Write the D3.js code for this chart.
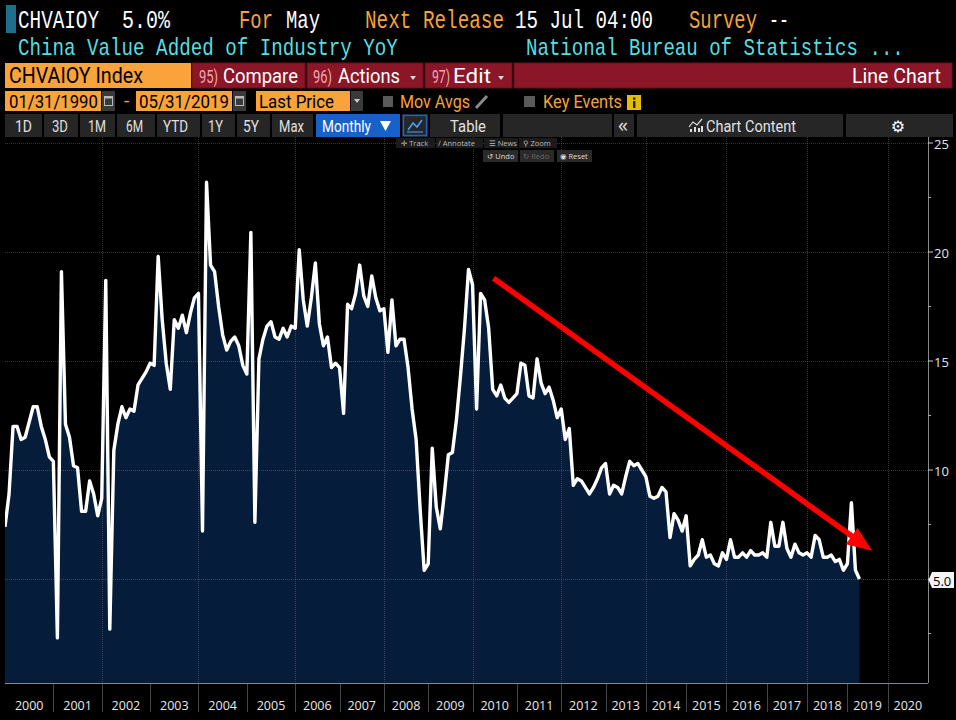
<!DOCTYPE html>
<html><head><meta charset="utf-8">
<script src="https://cdn.jsdelivr.net/npm/d3@7"></script>
<style>html,body{margin:0;padding:0;background:#000;}svg{display:block;}</style>
</head><body>
<svg id="c" width="956" height="720"></svg>
<script>
// ---------------- DATA ----------------
const periods = [
"1999-12",
"2000-01","2000-02","2000-03","2000-04","2000-05","2000-06","2000-07","2000-08","2000-09","2000-10","2000-11","2000-12",
"2001-01","2001-02","2001-03","2001-04","2001-05","2001-06","2001-07","2001-08","2001-09","2001-10","2001-11","2001-12",
"2002-01","2002-02","2002-03","2002-04","2002-05","2002-06","2002-07","2002-08","2002-09","2002-10","2002-11","2002-12",
"2003-01","2003-02","2003-03","2003-04","2003-05","2003-06","2003-07","2003-08","2003-09","2003-10","2003-11","2003-12",
"2004-01","2004-02","2004-03","2004-04","2004-05","2004-06","2004-07","2004-08","2004-09","2004-10","2004-11","2004-12",
"2005-01","2005-02","2005-03","2005-04","2005-05","2005-06","2005-07","2005-08","2005-09","2005-10","2005-11","2005-12",
"2006-02","2006-03","2006-04","2006-05","2006-06","2006-07","2006-08","2006-09","2006-10","2006-11","2006-12",
"2007-02","2007-03","2007-04","2007-05","2007-06","2007-07","2007-08","2007-09","2007-10","2007-11","2007-12",
"2008-02","2008-03","2008-04","2008-05","2008-06","2008-07","2008-08","2008-09","2008-10","2008-11","2008-12",
"2009-02","2009-03","2009-04","2009-05","2009-06","2009-07","2009-08","2009-09","2009-10","2009-11","2009-12",
"2010-02","2010-03","2010-04","2010-05","2010-06","2010-07","2010-08","2010-09","2010-10","2010-11","2010-12",
"2011-02","2011-03","2011-04","2011-05","2011-06","2011-07","2011-08","2011-09","2011-10","2011-11","2011-12",
"2012-02","2012-03","2012-04","2012-05","2012-06","2012-07","2012-08","2012-09","2012-10","2012-11","2012-12",
"2013-03","2013-04","2013-05","2013-06","2013-07","2013-08","2013-09","2013-10","2013-11","2013-12",
"2014-03","2014-04","2014-05","2014-06","2014-07","2014-08","2014-09","2014-10","2014-11","2014-12",
"2015-03","2015-04","2015-05","2015-06","2015-07","2015-08","2015-09","2015-10","2015-11","2015-12",
"2016-03","2016-04","2016-05","2016-06","2016-07","2016-08","2016-09","2016-10","2016-11","2016-12",
"2017-03","2017-04","2017-05","2017-06","2017-07","2017-08","2017-09","2017-10","2017-11","2017-12",
"2018-03","2018-04","2018-05","2018-06","2018-07","2018-08","2018-09","2018-10","2018-11","2018-12",
"2019-03","2019-04","2019-05"
];
const values = [
7.4,
8.9,12.0,12.0,11.4,11.5,12.2,12.9,12.9,12.0,11.4,10.6,10.4,
2.3,19.1,12.1,11.5,10.2,10.1,8.1,8.1,9.5,8.9,7.9,8.7,
18.7,2.7,10.9,12.1,12.9,12.4,12.8,12.7,13.9,14.2,14.5,14.9,
14.8,19.8,16.9,14.9,13.7,16.9,16.5,17.1,16.3,17.2,17.9,18.1,
7.2,23.2,19.4,19.1,17.5,16.2,15.5,15.9,16.1,15.7,14.8,14.4,
20.9,7.6,15.1,16.0,16.6,16.8,16.1,16.0,16.5,16.1,16.6,16.5,
20.1,17.8,16.6,17.9,19.5,16.7,15.7,16.1,14.7,14.9,14.7,
12.6,17.6,17.4,18.1,19.4,18.0,17.5,18.9,17.9,17.3,17.4,
15.4,17.8,15.7,16.0,16.0,14.7,12.8,11.4,8.2,5.4,5.7,
11.0,8.3,7.3,8.9,10.7,10.8,12.3,14.3,16.5,19.2,18.5,
12.8,18.1,17.8,16.5,13.7,13.4,13.9,13.3,13.1,13.3,13.5,
14.9,14.8,13.4,13.3,15.1,14.0,13.5,13.8,13.2,12.4,12.8,
11.4,11.9,9.3,9.6,9.5,9.2,8.9,9.2,9.6,10.1,10.3,
8.9,9.3,9.2,8.9,9.7,10.4,10.2,10.3,10.0,9.7,
8.8,8.7,8.8,9.2,9.0,6.9,8.0,7.7,7.2,7.9,
5.6,5.9,6.1,6.8,6.0,6.1,5.7,5.6,6.2,5.9,
6.8,6.0,6.0,6.2,6.0,6.3,6.1,6.1,6.2,6.0,
7.6,6.5,6.5,7.6,6.4,6.0,6.6,6.2,6.1,6.2,
6.0,7.0,6.8,6.0,6.0,6.1,5.8,5.9,5.4,5.7,
8.5,5.4,5.0
];
const yTicks = [5, 10, 15, 20, 25];
const yMinorTicks = [2.5, 7.5, 12.5, 17.5, 22.5];
const yearLabels = [2000,2001,2002,2003,2004,2005,2006,2007,2008,2009,2010,2011,2012,2013,2014,2015,2016,2017,2018,2019,2020];
const lastValueText = "5.0";
// trend arrow annotation, in data space (observation index, value)
const arrowStart = [121.2, 18.8];
const arrowEnd = [215.1, 6.3];

// ---------------- LAYOUT ----------------
const MONO = "'Liberation Mono','DejaVu Sans Mono',monospace";
const NARROW = "'Liberation Sans Narrow','Arial Narrow',Roboto,'Liberation Sans',sans-serif";
const UI = "'Open Sans','DejaVu Sans',sans-serif";
const ORANGE = "#f5a23a", CYAN = "#56dfe0", RED = "#8a1628", BOX = "#f9a33a";

const svg = d3.select("#c");
svg.append("rect").attr("width",956).attr("height",720).attr("fill","#000");

// text placed at (x, baseline yb); if len is given the glyphs are scaled horizontally to that width
function txt(g, s, x, yb, o) {
  o = o || {};
  const t = g.append("text").text(s)
    .attr("font-family", o.f || MONO).attr("font-size", o.s || 20).attr("fill", o.c || "#fff");
  if (o.a) t.attr("text-anchor", o.a);
  if (o.w) t.attr("font-weight", o.w);
  if (o.len) {
    const w = t.node().getComputedTextLength() || o.len;
    t.attr("transform", `translate(${x},${yb}) scale(${o.len / w},1)`);
  } else {
    t.attr("x", x).attr("y", yb);
  }
  return t;
}
const hdr = svg.append("g");

// Row 1
hdr.append("rect").attr("x",6).attr("y",5).attr("width",10).attr("height",28).attr("fill","#1f6f8b");
txt(hdr,"CHVAIOY",18,28,{s:25,len:81});
txt(hdr,"5.0%",122,28,{s:25,len:48});
txt(hdr,"For",239,28,{s:25,len:34,c:ORANGE});
txt(hdr,"May",286,28,{s:25,len:34});
txt(hdr,"Next Release",365,28,{s:25,len:139,c:ORANGE});
txt(hdr,"15 Jul 04:00",515,28,{s:25,len:138});
txt(hdr,"Survey",689,28,{s:25,len:68,c:ORANGE});
txt(hdr,"--",769,28,{s:25,len:20});
// Row 2
txt(hdr,"China Value Added of Industry YoY",18,55,{s:24,len:380,c:CYAN});
txt(hdr,"National Bureau of Statistics ...",526,55,{s:24,len:378,c:CYAN});

// Row 3
hdr.append("rect").attr("x",5).attr("y",63).attr("width",186).attr("height",25).attr("fill",BOX);
txt(hdr,"CHVAIOY Index",9,83,{f:NARROW,s:22,len:134,c:"#000"});
[[192,305],[307,423],[425,512],[514,952]].forEach(([a,b])=>{
  hdr.append("rect").attr("x",a).attr("y",63).attr("width",b-a).attr("height",25).attr("fill",RED)
     .attr("stroke","#6a0f1d").attr("stroke-width",1);
});
txt(hdr,"95)",199,83,{f:NARROW,s:19,len:19,c:"#f0a8b0"});
txt(hdr,"Compare",223,83,{f:NARROW,s:21,len:75});
txt(hdr,"96)",313,83,{f:NARROW,s:19,len:19,c:"#f0a8b0"});
txt(hdr,"Actions",338,83,{f:NARROW,s:21,len:62});
hdr.append("path").attr("fill","#ddd").attr("d","M410,76L416,76L413,80Z");
txt(hdr,"97)",432,83,{f:NARROW,s:19,len:18,c:"#f0a8b0"});
txt(hdr,"Edit",453,83,{f:NARROW,s:21,len:38});
hdr.append("path").attr("fill","#ddd").attr("d","M498,76L504,76L501,80Z");
txt(hdr,"Line Chart",852,83,{f:NARROW,s:21,len:89});

// Row 4
function calIcon(x0){
  hdr.append("rect").attr("x",x0).attr("y",91).attr("width",13).attr("height",20).attr("fill","#3a3a3a");
  hdr.append("rect").attr("x",x0+2.5).attr("y",96.5).attr("width",8).attr("height",9).attr("fill","none").attr("stroke","#bbb").attr("stroke-width",1);
  hdr.append("rect").attr("x",x0+2.5).attr("y",96.5).attr("width",8).attr("height",2).attr("fill","#bbb");
}
hdr.append("rect").attr("x",5).attr("y",91).attr("width",96).attr("height",20).attr("fill",BOX);
txt(hdr,"01/31/1990",9,108,{f:NARROW,s:19,len:89,c:"#000"});
calIcon(102);
txt(hdr,"-",124,107,{f:NARROW,s:19,c:ORANGE});
hdr.append("rect").attr("x",136).attr("y",91).attr("width",96).attr("height",20).attr("fill",BOX);
txt(hdr,"05/31/2019",139,108,{f:NARROW,s:19,len:90,c:"#000"});
calIcon(233);
hdr.append("rect").attr("x",256).attr("y",91).attr("width",94).attr("height",20).attr("fill",BOX);
txt(hdr,"Last Price",259,108,{f:NARROW,s:19,len:75,c:"#000"});
hdr.append("rect").attr("x",351).attr("y",91).attr("width",12).attr("height",20).attr("fill","#3a3a3a");
hdr.append("path").attr("fill","#ccc").attr("d","M354,99L360,99L357,103Z");
hdr.append("rect").attr("x",383).attr("y",96).attr("width",10).attr("height",11).attr("fill","#5a5a5a");
txt(hdr,"Mov Avgs",400,108,{f:NARROW,s:19,len:70,c:ORANGE});
hdr.append("line").attr("x1",476).attr("y1",108).attr("x2",487).attr("y2",96).attr("stroke","#8a8a8a").attr("stroke-width",3);
hdr.append("rect").attr("x",524).attr("y",96).attr("width",11).attr("height",11).attr("fill","#5a5a5a");
txt(hdr,"Key Events",543,108,{f:NARROW,s:19,len:79,c:ORANGE});
hdr.append("rect").attr("x",627).attr("y",95).attr("width",14).attr("height",15).attr("fill","#e3bd00");
hdr.append("rect").attr("x",633).attr("y",101).attr("width",2.4).attr("height",7).attr("fill","#222");
hdr.append("rect").attr("x",633).attr("y",97.5).attr("width",2.4).attr("height",2.2).attr("fill","#222");

// Row 5
[[5,42],[44,78],[80,115],[117,155],[157,200],[202,235],[237,270],[272,313],[402,428],[430,500],[503,612],[614,634],[637,843],[846,953]]
 .forEach(([a,b])=>hdr.append("rect").attr("x",a).attr("y",114).attr("width",b-a).attr("height",23).attr("fill","#262626"));
hdr.append("rect").attr("x",316).attr("y",114).attr("width",84).attr("height",23).attr("fill","#1762c9");
hdr.append("rect").attr("x",403.5).attr("y",115.5).attr("width",23).attr("height",20).attr("fill","none").attr("stroke","#1762c9").attr("stroke-width",1.5);
hdr.append("polyline").attr("points","408,130 413,123 417,127 422,120").attr("fill","none").attr("stroke","#4aa0ff").attr("stroke-width",1.5);
hdr.append("line").attr("x1",407).attr("y1",132).attr("x2",423).attr("y2",132).attr("stroke","#4aa0ff").attr("stroke-width",1);
const R5 = {f:NARROW,s:17,c:"#e0e0e0"};
[["1D",15,17],["3D",52,16],["1M",88,18],["6M",126,17],["YTD",163,25],["1Y",208,15],["5Y",243,16],["Max",279,25],["Table",450,36]]
 .forEach(([s,x0,l])=>txt(hdr,s,x0,132,Object.assign({len:l},R5)));
txt(hdr,"Monthly",322,132,{f:NARROW,s:17,len:49,c:"#fff"});
hdr.append("path").attr("fill","#fff").attr("d","M380,121L391,121L385.5,131Z");
txt(hdr,"\u00AB",618,132,{f:UI,s:20,c:"#e0e0e0"});
hdr.append("polyline").attr("points","689,127 693,122 697,125 702,119").attr("fill","none").attr("stroke","#ddd").attr("stroke-width",1.2);
[[690,131,2,3],[694,131,2,5],[698,131,2,4],[701,131,2,6]].forEach(([a,b,w,h])=>hdr.append("rect").attr("x",a).attr("y",b-h+1).attr("width",w).attr("height",h).attr("fill","#ddd"));
txt(hdr,"Chart Content",706,132,Object.assign({len:90},R5));
txt(hdr,"\u2699",898,132,{f:"'DejaVu Sans',sans-serif",s:16,c:"#fff",a:"middle"});

// ---------------- CHART ----------------
const plot = {left:5, right:928, top:137, bottom:683};
const yearOf = p => +p.slice(0,4);
const lastYear = yearOf(periods[periods.length-1]);
const lastIdxOfYear = yr => { let k = -1; periods.forEach((p,i)=>{ if (yearOf(p) === yr) k = i; }); return k; };
const fullCount = periods.filter(p => yearOf(p) === lastYear-1).length;
const sepIdx = yearLabels.map(yr => yr <= lastYear ? lastIdxOfYear(yr-1) : lastIdxOfYear(lastYear-1) + (yr-lastYear)*fullCount);
const endIdx = sepIdx[sepIdx.length-1] + fullCount;

const x = d3.scaleLinear().domain([0, endIdx]).range([plot.left, plot.right]);
const y = d3.scaleLinear().domain([0, 25]).range([688, 143]);
const pts = values.map((v,i)=>({i, v}));

svg.append("clipPath").attr("id","pc").append("rect")
  .attr("x",plot.left).attr("y",plot.top).attr("width",plot.right-plot.left).attr("height",plot.bottom-plot.top);
const g = svg.append("g").attr("clip-path","url(#pc)");

g.append("path").datum(pts).attr("fill","#061c3b")
  .attr("d", d3.area().x(d=>x(d.i)).y0(plot.bottom).y1(d=>y(d.v)));

// grid
const grid = g.append("g").attr("stroke","#8a8f99").attr("stroke-opacity",0.38).attr("stroke-dasharray","1,1").attr("stroke-width",1);
yTicks.forEach(t => grid.append("line").attr("x1",plot.left).attr("x2",plot.right).attr("y1",Math.round(y(t))+0.5).attr("y2",Math.round(y(t))+0.5));
yearLabels.forEach((yr,k)=>{ if (k>0 && yr%2===0) { const xx = Math.round(x(sepIdx[k]))+0.5;
  grid.append("line").attr("x1",xx).attr("x2",xx).attr("y1",plot.top).attr("y2",plot.bottom); }});

g.append("path").datum(pts).attr("fill","none").attr("stroke","#fff").attr("stroke-width",3.4)
  .attr("stroke-linejoin","round").attr("d", d3.line().x(d=>x(d.i)).y(d=>y(d.v)));

// arrow
const ax1 = x(arrowStart[0]), ay1 = y(arrowStart[1]), ax2 = x(arrowEnd[0]), ay2 = y(arrowEnd[1]);
const ang = Math.atan2(ay2-ay1, ax2-ax1), hl = 25, hw = 10;
const bx = ax2 - hl*Math.cos(ang), by = ay2 - hl*Math.sin(ang);
svg.append("line").attr("x1",ax1).attr("y1",ay1).attr("x2",bx+3*Math.cos(ang)).attr("y2",by+3*Math.sin(ang))
  .attr("stroke","#ff0000").attr("stroke-width",5.5);
svg.append("path").attr("fill","#ff0000").attr("d",
  `M${ax2},${ay2}L${bx+hw*Math.sin(ang)},${by-hw*Math.cos(ang)}L${bx-hw*Math.sin(ang)},${by+hw*Math.cos(ang)}Z`);

// chart toolbar
const tb = svg.append("g").attr("font-family",UI).attr("font-size",7.5).attr("fill","#bbb");
[[396,436],[436,484],[484,519],[519,558]].forEach(([a,b])=>tb.append("rect").attr("x",a).attr("y",138).attr("width",b-a-1).attr("height",10).attr("fill","#1b1b1b"));
[["\u271B Track",401],["\u2215 Annotate",438],["\u2630 News",489],["\u26B2 Zoom",523]].forEach(([s,x0])=>tb.append("text").attr("x",x0).attr("y",146).text(s));
[[483,518],[520,554],[557,592]].forEach(([a,b])=>tb.append("rect").attr("x",a).attr("y",150).attr("width",b-a).attr("height",12).attr("fill","#2a2a2a"));
tb.append("text").attr("x",487).attr("y",159).text("\u21BA Undo").attr("fill","#ddd");
tb.append("text").attr("x",523).attr("y",159).text("\u21BB Redo").attr("fill","#666");
tb.append("text").attr("x",560).attr("y",159).text("\u25C9 Reset").attr("fill","#ddd");

// y axis (right)
const lv = values[values.length-1], ly = y(lv);
const yax = svg.append("g");
yax.append("line").attr("x1",928.5).attr("x2",928.5).attr("y1",plot.top).attr("y2",plot.bottom).attr("stroke","#8a8a8a");
yTicks.forEach(t=>{
  yax.append("line").attr("x1",928).attr("x2",933).attr("y1",y(t)).attr("y2",y(t)).attr("stroke","#ccc");
  if (Math.abs(y(t) - ly) > 12)
    yax.append("text").attr("x",934).attr("y",y(t)+1).attr("dominant-baseline","central")
      .attr("font-family",UI).attr("font-size",13).attr("fill","#e6e6e6").text(t);
});
yMinorTicks.forEach(t=> yax.append("line").attr("x1",928).attr("x2",931).attr("y1",y(t)).attr("y2",y(t)).attr("stroke","#aaa"));
// last value tag
yax.append("path").attr("fill","#f4f4f4").attr("d",`M928.5,${ly+1}L932,${ly-7}L954,${ly-7}L954,${ly+9}L932,${ly+9}Z`);
yax.append("text").attr("x",933).attr("y",ly+2).attr("dominant-baseline","central").attr("font-family",UI)
  .attr("font-size",13).attr("fill","#000").text(lastValueText);

// x axis strip
const xax = svg.append("g");
xax.append("line").attr("x1",plot.left).attr("x2",plot.right).attr("y1",683.5).attr("y2",683.5).attr("stroke","#7f8a99");
yearLabels.forEach((yr,k)=>{
  const a = x(sepIdx[k]), b = x(k < yearLabels.length-1 ? sepIdx[k+1] : endIdx);
  if (k>0) xax.append("line").attr("x1",Math.round(a)+0.5).attr("x2",Math.round(a)+0.5).attr("y1",684).attr("y2",712).attr("stroke","#444");
  xax.append("text").attr("x",(a+b)/2).attr("y",710).attr("text-anchor","middle")
    .attr("font-family",UI).attr("font-size",12.5).attr("fill","#e8e8e8").text(yr);
});
</script>
</body></html>
